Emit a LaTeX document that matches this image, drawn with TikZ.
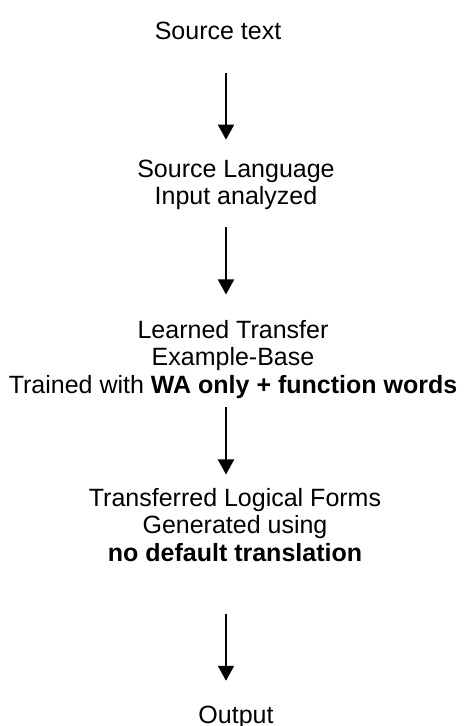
\documentclass[tikz,border=0pt]{standalone}
\usepackage{fontspec}
\setmainfont{Liberation Sans}
\usetikzlibrary{arrows.meta}
\begin{document}
\begin{tikzpicture}[
  x=0.5pt, y=-0.5pt,
  font=\fontsize{12.5}{13.75}\selectfont,
  every node/.style={align=center, inner sep=0pt},
  stage/.style={anchor=base},
  flow/.style={-{Triangle[length=7.5pt,width=8pt]}, line width=1pt}]

\useasboundingbox (0,0) rectangle (470,726);

% Stages of the pipeline, one under the other (placed at the last baseline)
\node[stage] (source) at (218,40) {Source text};
\node[stage] (analysis) at (236,205) {Source Language\\Input analyzed};
\node[stage] (transfer) at (233,393) {Learned Transfer\\Example-Base\\Trained with \textbf{WA only + function words}};
\node[stage] (forms) at (235,561) {Transferred Logical Forms\\Generated using\\\textbf{no default translation}};
\node[stage] (output) at (236,723) {Output};

% Arrows all run down the same vertical line
\coordinate (ax) at (226,0);
\draw [flow, shorten <=16pt, shorten >=10pt] (source.south -| ax) -- (analysis.north -| ax);
\draw [flow, shorten <=8.4pt, shorten >=12.5pt] (analysis.south -| ax) -- (transfer.north -| ax);
\draw [flow, shorten <=4.4pt, shorten >=6.5pt] (transfer.south -| ax) -- (forms.north -| ax);
\draw [flow, shorten <=26pt, shorten >=12.2pt] (forms.south -| ax) -- (output.north -| ax);
\end{tikzpicture}
\end{document}
